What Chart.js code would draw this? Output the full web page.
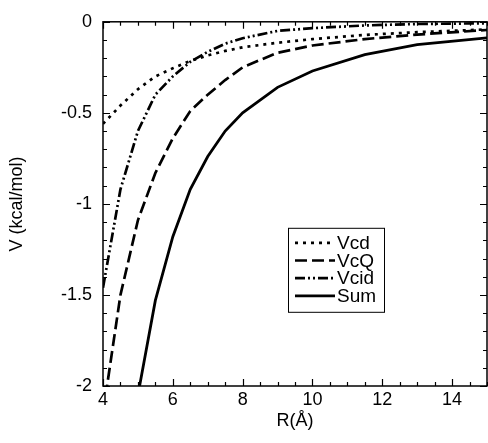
<!DOCTYPE html>
<html>
<head>
<meta charset="utf-8">
<script src="https://cdn.jsdelivr.net/npm/chart.js@4.4.1/dist/chart.umd.min.js"></script>
<style>
  html, body { margin: 0; padding: 0; background: #fff; }
  #wrap { width: 488px; height: 443px; }
</style>
</head>
<body>
<div id="wrap"><canvas id="chart" width="488" height="443"></canvas></div>
<script>
// distance R (Angstrom) and the three contributions + their sum (kcal/mol)
const rValues = [4, 4.5, 5, 5.5, 6, 6.5, 7, 7.5, 8, 9, 10, 11.5, 13, 15];
const vcd  = [-0.56, -0.46, -0.37, -0.30, -0.255, -0.215, -0.185, -0.16, -0.14, -0.115, -0.095, -0.072, -0.057, -0.042];
const vcq  = [-2.15, -1.50, -1.09, -0.83, -0.64, -0.49, -0.40, -0.32, -0.25, -0.17, -0.13, -0.095, -0.07, -0.045];
const vcid = [-1.46, -0.92, -0.60, -0.40, -0.30, -0.22, -0.165, -0.12, -0.09, -0.05, -0.035, -0.02, -0.012, -0.008];
const sum  = [-4.17, -2.88, -2.05, -1.53, -1.18, -0.92, -0.74, -0.60, -0.50, -0.36, -0.27, -0.18, -0.125, -0.088];

const xTickStep = 2;
const yTickStep = 0.5;

const FONT = "'Liberation Sans', Arial, Helvetica, sans-serif";

function pts(vals) {
  return rValues.map((r, i) => ({ x: r, y: vals[i] }));
}

function series(label, vals, dash, width) {
  return {
    label: label,
    data: pts(vals),
    borderColor: '#000',
    borderWidth: width,
    borderDash: dash,
    pointRadius: 0,
    fill: false,
    tension: 0,
    clip: 0,
  };
}

// box frame with inward major/minor ticks on all four sides
const frameTicks = {
  id: 'frameTicks',
  afterDatasetsDraw(chart) {
    const { ctx, chartArea: a, scales: { x, y } } = chart;
    ctx.save();
    ctx.strokeStyle = '#000';
    ctx.lineWidth = 1.2;
    ctx.beginPath();
    for (let i = 0; i <= 22; i++) {
      const v = x.min + i * 0.5;
      const px = Math.round(x.getPixelForValue(v)) + 0.5;
      const len = (v % 2 === 0) ? 7 : 4;
      ctx.moveTo(px, a.bottom); ctx.lineTo(px, a.bottom - len);
      ctx.moveTo(px, a.top); ctx.lineTo(px, a.top + len);
    }
    for (let i = 0; i <= 20; i++) {
      const py = Math.round(y.getPixelForValue(-i * 0.1)) + 0.5;
      const len = (i % 5 === 0) ? 7 : 4;
      ctx.moveTo(a.left, py); ctx.lineTo(a.left + len, py);
      ctx.moveTo(a.right, py); ctx.lineTo(a.right - len, py);
    }
    ctx.stroke();
    ctx.lineWidth = 1.5;
    ctx.strokeRect(a.left, a.top, a.right - a.left, a.bottom - a.top);
    ctx.restore();
  }
};

// legend box inside the plot
const boxLegend = {
  id: 'boxLegend',
  afterDraw(chart) {
    const { ctx, chartArea: a } = chart;
    const left = a.left + 185, top = a.top + 206;
    const w = 96, h = 84;
    ctx.save();
    ctx.fillStyle = '#fff';
    ctx.fillRect(left, top, w, h);
    ctx.strokeStyle = '#000';
    ctx.lineWidth = 1;
    ctx.strokeRect(left + 0.5, top + 0.5, w, h);
    ctx.font = '19px ' + FONT;
    ctx.textBaseline = 'middle';
    ctx.fillStyle = '#000';
    chart.data.datasets.forEach((ds, i) => {
      const yy = top + 15 + i * 17.7;
      ctx.beginPath();
      ctx.setLineDash(ds.borderDash || []);
      ctx.lineWidth = ds.borderWidth;
      ctx.moveTo(left + 7, yy);
      ctx.lineTo(left + 47, yy);
      ctx.stroke();
      ctx.setLineDash([]);
      ctx.fillText(ds.label, left + 49, yy + 1);
    });
    ctx.restore();
  }
};

const tickFont = { family: FONT, size: 18 };

new Chart(document.getElementById('chart').getContext('2d'), {
  type: 'line',
  data: {
    datasets: [
      series('Vcd', vcd, [3, 5], 2.7),
      series('VcQ', vcq, [12, 5], 2.7),
      series('Vcid', vcid, [10, 3, 2, 3, 2, 3], 2.7),
      series('Sum', sum, [], 2.8),
    ],
  },
  options: {
    responsive: false,
    animation: false,
    devicePixelRatio: 1,
    layout: { padding: { top: 21, right: 1, left: 0, bottom: 0 } },
    plugins: { legend: { display: false }, tooltip: { enabled: false } },
    scales: {
      x: {
        type: 'linear',
        min: 4,
        max: 15,
        grid: { display: false, drawTicks: false },
        border: { display: false },
        ticks: {
          stepSize: xTickStep,
          includeBounds: false,
          padding: 3,
          color: '#000',
          font: tickFont,
          maxRotation: 0,
        },
        title: {
          display: true,
          text: 'R(Å)',
          color: '#000',
          font: tickFont,
          padding: { top: 0, bottom: 11 },
        },
        afterFit(scale) { scale.height = 57; },
      },
      y: {
        type: 'linear',
        min: -2,
        max: 0,
        grid: { display: false, drawTicks: false },
        border: { display: false },
        ticks: {
          stepSize: yTickStep,
          padding: 11,
          color: '#000',
          font: tickFont,
          callback: (v) => String(Math.round(v * 10) / 10),
        },
        title: {
          display: true,
          text: 'V (kcal/mol)',
          color: '#000',
          font: tickFont,
          padding: { top: 6, bottom: 0 },
        },
        afterFit(scale) { scale.width = 103; },
      },
    },
  },
  plugins: [frameTicks, boxLegend],
});
</script>
</body>
</html>
